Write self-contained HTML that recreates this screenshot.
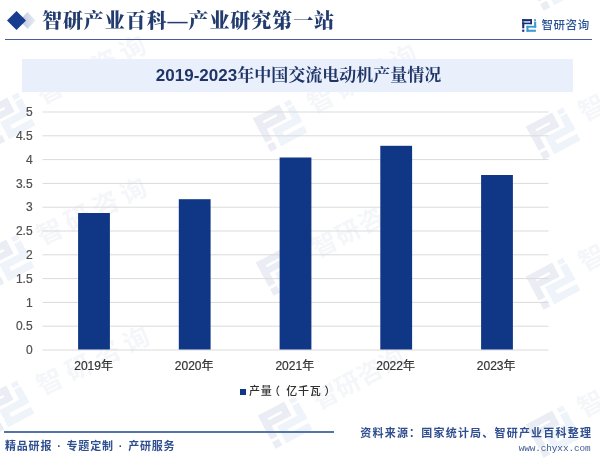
<!DOCTYPE html>
<html lang="zh-CN">
<head>
<meta charset="utf-8">
<title>2019-2023年中国交流电动机产量情况</title>
<style>
html,body{margin:0;padding:0;background:#fff;}
body{width:600px;height:472px;position:relative;overflow:hidden;font-family:"Liberation Sans","Noto Sans CJK SC",sans-serif;}
.abs{position:absolute;white-space:nowrap;}
#hdr{left:42px;top:6px;font-family:"Liberation Serif","Noto Serif CJK SC",serif;font-weight:900;font-size:20px;letter-spacing:0.93px;color:#233c70;line-height:30px;}
#hline{left:5px;top:38.7px;width:587px;height:1.8px;background:#485c9b;}
#brand{left:541.5px;top:16px;font-size:11.5px;line-height:18px;color:#2c5296;font-weight:500;letter-spacing:0.55px;}
#band{left:22px;top:58.5px;width:551px;height:33.2px;background:#e9f0fb;}
#title{left:23px;top:58.7px;width:551px;height:33px;line-height:33px;text-align:center;font-size:17px;font-weight:bold;color:#1f3467;font-family:"Liberation Sans","Noto Serif CJK SC",serif;}
#title span{font-weight:700;}
.yl{-webkit-text-stroke:0.2px #505050;width:30px;text-align:right;left:2.6px;font-size:12px;color:#505050;line-height:14px;margin-top:0.3px;}
.xl{-webkit-text-stroke:0.2px #333;width:80px;text-align:center;font-size:12px;color:#333;line-height:14px;top:358.8px;margin-left:-0.6px;}
#legend{left:249px;top:383.2px;font-size:11px;line-height:16px;color:#2e2e2e;letter-spacing:0.8px;font-weight:500;}
#legend i{font-style:normal;position:relative;}
#lsq{left:240px;top:388.5px;width:6px;height:6px;background:#0f3785;}
#fline{left:4px;top:431.4px;width:329.5px;height:1.6px;background:#5573a6;}
#fl{left:5px;top:436.5px;font-size:11px;font-weight:bold;color:#2f4f90;line-height:18px;letter-spacing:0.8px;word-spacing:1.1px;}
#src{left:360.3px;top:424px;font-size:11px;font-weight:bold;color:#2f4f90;line-height:18px;letter-spacing:1.2px;}
#url{left:518.7px;top:441.7px;font-family:"Liberation Mono",monospace;font-size:9.4px;letter-spacing:-0.1px;color:#3e5a92;line-height:14px;}
.wm{position:absolute;width:0;height:0;transform:rotate(-28deg);}
.wm svg{position:absolute;left:-22px;top:-19px;}
.wm span{position:absolute;left:-13px;top:-19px;font-size:26px;line-height:38px;color:rgba(185,198,218,0.16);font-weight:700;white-space:nowrap;}
</style>
</head>
<body>
<!-- watermarks -->
<div class="wm" style="left:9px;top:118px"><svg width="44" height="38" viewBox="0 0 15 13"><g fill="#ebedf4"><rect x="0" y="0" width="10.2" height="2.4"/><rect x="0" y="3.2" width="10.2" height="2.2"/><rect x="7.8" y="0" width="2.4" height="5.4"/><rect x="0" y="0" width="2.6" height="9.4"/><rect x="0" y="10.4" width="2.6" height="2.6"/></g><g fill="#eef4fa"><rect x="11.9" y="0.2" width="2.4" height="1.8"/><rect x="11.9" y="2.6" width="2.6" height="6.2"/><rect x="4.2" y="6.4" width="10.3" height="2.5"/><rect x="4.2" y="6.4" width="2.5" height="6.6"/><rect x="4.2" y="10.4" width="10.1" height="2.6"/></g></svg></div>
<div class="wm" style="left:281px;top:125px"><svg width="44" height="38" viewBox="0 0 15 13"><g fill="#ebedf4"><rect x="0" y="0" width="10.2" height="2.4"/><rect x="0" y="3.2" width="10.2" height="2.2"/><rect x="7.8" y="0" width="2.4" height="5.4"/><rect x="0" y="0" width="2.6" height="9.4"/><rect x="0" y="10.4" width="2.6" height="2.6"/></g><g fill="#eef4fa"><rect x="11.9" y="0.2" width="2.4" height="1.8"/><rect x="11.9" y="2.6" width="2.6" height="6.2"/><rect x="4.2" y="6.4" width="10.3" height="2.5"/><rect x="4.2" y="6.4" width="2.5" height="6.6"/><rect x="4.2" y="10.4" width="10.1" height="2.6"/></g></svg></div>
<div class="wm" style="left:554px;top:133px"><svg width="44" height="38" viewBox="0 0 15 13"><g fill="#ebedf4"><rect x="0" y="0" width="10.2" height="2.4"/><rect x="0" y="3.2" width="10.2" height="2.2"/><rect x="7.8" y="0" width="2.4" height="5.4"/><rect x="0" y="0" width="2.6" height="9.4"/><rect x="0" y="10.4" width="2.6" height="2.6"/></g><g fill="#eef4fa"><rect x="11.9" y="0.2" width="2.4" height="1.8"/><rect x="11.9" y="2.6" width="2.6" height="6.2"/><rect x="4.2" y="6.4" width="10.3" height="2.5"/><rect x="4.2" y="6.4" width="2.5" height="6.6"/><rect x="4.2" y="10.4" width="10.1" height="2.6"/></g></svg></div>
<div class="wm" style="left:554px;top:-16px"><svg width="44" height="38" viewBox="0 0 15 13"><g fill="#ebedf4"><rect x="0" y="0" width="10.2" height="2.4"/><rect x="0" y="3.2" width="10.2" height="2.2"/><rect x="7.8" y="0" width="2.4" height="5.4"/><rect x="0" y="0" width="2.6" height="9.4"/><rect x="0" y="10.4" width="2.6" height="2.6"/></g><g fill="#eef4fa"><rect x="11.9" y="0.2" width="2.4" height="1.8"/><rect x="11.9" y="2.6" width="2.6" height="6.2"/><rect x="4.2" y="6.4" width="10.3" height="2.5"/><rect x="4.2" y="6.4" width="2.5" height="6.6"/><rect x="4.2" y="10.4" width="10.1" height="2.6"/></g></svg></div>
<div class="wm" style="left:8px;top:260px"><svg width="44" height="38" viewBox="0 0 15 13"><g fill="#ebedf4"><rect x="0" y="0" width="10.2" height="2.4"/><rect x="0" y="3.2" width="10.2" height="2.2"/><rect x="7.8" y="0" width="2.4" height="5.4"/><rect x="0" y="0" width="2.6" height="9.4"/><rect x="0" y="10.4" width="2.6" height="2.6"/></g><g fill="#eef4fa"><rect x="11.9" y="0.2" width="2.4" height="1.8"/><rect x="11.9" y="2.6" width="2.6" height="6.2"/><rect x="4.2" y="6.4" width="10.3" height="2.5"/><rect x="4.2" y="6.4" width="2.5" height="6.6"/><rect x="4.2" y="10.4" width="10.1" height="2.6"/></g></svg></div>
<div class="wm" style="left:284px;top:269px"><svg width="44" height="38" viewBox="0 0 15 13"><g fill="#ebedf4"><rect x="0" y="0" width="10.2" height="2.4"/><rect x="0" y="3.2" width="10.2" height="2.2"/><rect x="7.8" y="0" width="2.4" height="5.4"/><rect x="0" y="0" width="2.6" height="9.4"/><rect x="0" y="10.4" width="2.6" height="2.6"/></g><g fill="#eef4fa"><rect x="11.9" y="0.2" width="2.4" height="1.8"/><rect x="11.9" y="2.6" width="2.6" height="6.2"/><rect x="4.2" y="6.4" width="10.3" height="2.5"/><rect x="4.2" y="6.4" width="2.5" height="6.6"/><rect x="4.2" y="10.4" width="10.1" height="2.6"/></g></svg></div>
<div class="wm" style="left:554px;top:283px"><svg width="44" height="38" viewBox="0 0 15 13"><g fill="#ebedf4"><rect x="0" y="0" width="10.2" height="2.4"/><rect x="0" y="3.2" width="10.2" height="2.2"/><rect x="7.8" y="0" width="2.4" height="5.4"/><rect x="0" y="0" width="2.6" height="9.4"/><rect x="0" y="10.4" width="2.6" height="2.6"/></g><g fill="#eef4fa"><rect x="11.9" y="0.2" width="2.4" height="1.8"/><rect x="11.9" y="2.6" width="2.6" height="6.2"/><rect x="4.2" y="6.4" width="10.3" height="2.5"/><rect x="4.2" y="6.4" width="2.5" height="6.6"/><rect x="4.2" y="10.4" width="10.1" height="2.6"/></g></svg></div>
<div class="wm" style="left:8px;top:406px"><svg width="44" height="38" viewBox="0 0 15 13"><g fill="#ebedf4"><rect x="0" y="0" width="10.2" height="2.4"/><rect x="0" y="3.2" width="10.2" height="2.2"/><rect x="7.8" y="0" width="2.4" height="5.4"/><rect x="0" y="0" width="2.6" height="9.4"/><rect x="0" y="10.4" width="2.6" height="2.6"/></g><g fill="#eef4fa"><rect x="11.9" y="0.2" width="2.4" height="1.8"/><rect x="11.9" y="2.6" width="2.6" height="6.2"/><rect x="4.2" y="6.4" width="10.3" height="2.5"/><rect x="4.2" y="6.4" width="2.5" height="6.6"/><rect x="4.2" y="10.4" width="10.1" height="2.6"/></g></svg></div>
<div class="wm" style="left:286px;top:422px"><svg width="44" height="38" viewBox="0 0 15 13"><g fill="#ebedf4"><rect x="0" y="0" width="10.2" height="2.4"/><rect x="0" y="3.2" width="10.2" height="2.2"/><rect x="7.8" y="0" width="2.4" height="5.4"/><rect x="0" y="0" width="2.6" height="9.4"/><rect x="0" y="10.4" width="2.6" height="2.6"/></g><g fill="#eef4fa"><rect x="11.9" y="0.2" width="2.4" height="1.8"/><rect x="11.9" y="2.6" width="2.6" height="6.2"/><rect x="4.2" y="6.4" width="10.3" height="2.5"/><rect x="4.2" y="6.4" width="2.5" height="6.6"/><rect x="4.2" y="10.4" width="10.1" height="2.6"/></g></svg></div>
<div class="wm" style="left:554px;top:431px"><svg width="44" height="38" viewBox="0 0 15 13"><g fill="#ebedf4"><rect x="0" y="0" width="10.2" height="2.4"/><rect x="0" y="3.2" width="10.2" height="2.2"/><rect x="7.8" y="0" width="2.4" height="5.4"/><rect x="0" y="0" width="2.6" height="9.4"/><rect x="0" y="10.4" width="2.6" height="2.6"/></g><g fill="#eef4fa"><rect x="11.9" y="0.2" width="2.4" height="1.8"/><rect x="11.9" y="2.6" width="2.6" height="6.2"/><rect x="4.2" y="6.4" width="10.3" height="2.5"/><rect x="4.2" y="6.4" width="2.5" height="6.6"/><rect x="4.2" y="10.4" width="10.1" height="2.6"/></g></svg></div>
<div class="wm" style="left:50px;top:91px;transform:rotate(-27deg)"><span style="letter-spacing:5px">智研咨询</span></div>
<div class="wm" style="left:321px;top:100px;transform:rotate(-27deg)"><span style="letter-spacing:5px">智研咨询</span></div>
<div class="wm" style="left:591.5px;top:107.5px;transform:rotate(-27deg)"><span style="letter-spacing:5px">智研咨询</span></div>
<div class="wm" style="left:50px;top:232px;transform:rotate(-26deg)"><span style="letter-spacing:5px">智研咨询</span></div>
<div class="wm" style="left:324.5px;top:244px;transform:rotate(-27deg)"><span style="letter-spacing:1px;font-size:25px">智研咨询</span></div>
<div class="wm" style="left:592px;top:258px;transform:rotate(-27deg)"><span style="letter-spacing:5px">智研咨询</span></div>
<div class="wm" style="left:49.5px;top:382px;transform:rotate(-26deg)"><span style="letter-spacing:6px">智研咨询</span></div>
<div class="wm" style="left:325.5px;top:396px;transform:rotate(-28deg)"><span style="letter-spacing:0px;font-size:25px">智研咨询</span></div>
<div class="wm" style="left:591px;top:404px;transform:rotate(-27deg)"><span style="letter-spacing:5px">智研咨询</span></div>


<!-- header -->
<svg class="abs" style="left:0;top:0" width="45" height="40" viewBox="0 0 45 40">
  <defs><linearGradient id="dg" x1="0" x2="1" y1="0" y2="0"><stop offset="0" stop-color="#bcc5de"/><stop offset="1" stop-color="#e9ecf4"/></linearGradient></defs>
  <polygon points="27.5,12 35.5,20.5 27.5,29 19.5,20.5" fill="url(#dg)"/>
  <polygon points="16.5,11 26,20.5 16.5,30 7,20.5" fill="#173d8f"/>
</svg>
<div id="hdr" class="abs">智研产业百科—产业研究第一站</div>
<div id="hline" class="abs"></div>
<svg class="abs" style="left:522px;top:19px" width="15" height="13" viewBox="0 0 15 13">
  <g fill="#1b2d6e">
    <rect x="0.2" y="0.1" width="9.8" height="1.9"/>
    <rect x="0.2" y="3.6" width="9.8" height="1.6"/>
    <rect x="8.2" y="0.1" width="1.8" height="5.1"/>
    <rect x="0.2" y="0.1" width="2.1" height="9.2"/>
    <rect x="0.2" y="10.6" width="2.1" height="2.2"/>
  </g>
  <rect x="1.2" y="2.2" width="6.4" height="1.2" fill="#8fb4e6"/>
  <g fill="#3c9ad2">
    <rect x="12.1" y="0.4" width="1.8" height="1.4" fill="#2a6f9a"/>
    <rect x="12.1" y="2.6" width="2.1" height="6"/>
    <rect x="4.5" y="6.8" width="9.7" height="1.9"/>
    <rect x="4.5" y="6.8" width="2" height="6"/>
    <rect x="4.5" y="10.7" width="9.4" height="2.1"/>
  </g>
</svg>
<div id="brand" class="abs">智研咨询</div>

<!-- title -->
<div id="band" class="abs"></div>
<div id="title" class="abs">2019-2023<span>年中国交流电动机产量情况</span></div>

<!-- chart -->
<svg class="abs" style="left:0;top:100px" width="600" height="260" viewBox="0 100 600 260">
  <g stroke="#dbdbdb" stroke-width="1">
    <line x1="42.5" x2="548.5" y1="112" y2="112"/>
    <line x1="42.5" x2="548.5" y1="135.8" y2="135.8"/>
    <line x1="42.5" x2="548.5" y1="159.6" y2="159.6"/>
    <line x1="42.5" x2="548.5" y1="183.4" y2="183.4"/>
    <line x1="42.5" x2="548.5" y1="207.2" y2="207.2"/>
    <line x1="42.5" x2="548.5" y1="231" y2="231"/>
    <line x1="42.5" x2="548.5" y1="254.8" y2="254.8"/>
    <line x1="42.5" x2="548.5" y1="278.6" y2="278.6"/>
    <line x1="42.5" x2="548.5" y1="302.4" y2="302.4"/>
    <line x1="42.5" x2="548.5" y1="326.2" y2="326.2"/>
    <line x1="42.5" x2="548.5" y1="350" y2="350"/>
  </g>
  <g fill="#0f3785">
    <rect x="78.1" y="213" width="31.8" height="136.5"/>
    <rect x="178.8" y="199.2" width="31.8" height="150.3"/>
    <rect x="279.6" y="157.5" width="31.8" height="192.0"/>
    <rect x="380.3" y="145.8" width="31.8" height="203.7"/>
    <rect x="481.1" y="175" width="31.8" height="174.5"/>
  </g>
</svg>
<div class="abs yl" style="top:105px">5</div>
<div class="abs yl" style="top:128.8px">4.5</div>
<div class="abs yl" style="top:152.6px">4</div>
<div class="abs yl" style="top:176.4px">3.5</div>
<div class="abs yl" style="top:200.2px">3</div>
<div class="abs yl" style="top:224px">2.5</div>
<div class="abs yl" style="top:247.8px">2</div>
<div class="abs yl" style="top:271.6px">1.5</div>
<div class="abs yl" style="top:295.4px">1</div>
<div class="abs yl" style="top:319.2px">0.5</div>
<div class="abs yl" style="top:343px">0</div>

<div class="abs xl" style="left:54.2px">2019年</div>
<div class="abs xl" style="left:154.8px">2020年</div>
<div class="abs xl" style="left:255.4px">2021年</div>
<div class="abs xl" style="left:356.2px">2022年</div>
<div class="abs xl" style="left:456.8px">2023年</div>

<div id="lsq" class="abs"></div>
<div id="legend" class="abs">产量<i style="left:-3.5px">（</i><i style="left:1.8px">亿千瓦</i><i style="left:4.6px">）</i></div>

<!-- footer -->
<div id="fline" class="abs"></div>
<div id="fl" class="abs">精品研报 · 专题定制 · 产研服务</div>
<div id="src" class="abs">资料来源：国家统计局、智研产业百科整理</div>
<div id="url" class="abs">www.chyxx.com</div>
</body>
</html>
